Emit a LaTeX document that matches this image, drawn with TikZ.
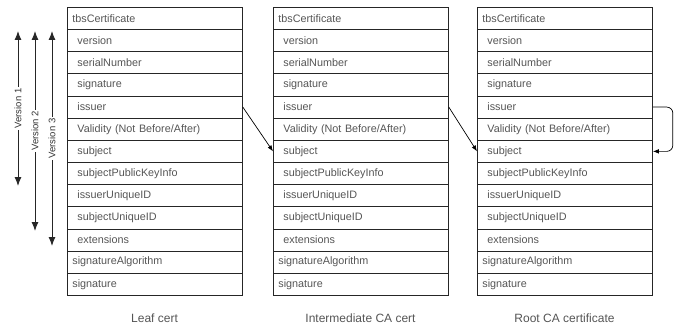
\documentclass[tikz,border=0pt]{standalone}
\usepackage{fontspec}
\setmainfont{Liberation Sans}
\usetikzlibrary{arrows.meta}
\definecolor{txtgray}{HTML}{555555}
\tikzset{ f/.style = { rectangle % field
        , draw = black!85
        , line width = 0.8pt
        , minimum width = 175pt
        , minimum height = 22.15pt
        , text width = 165pt
        , inner xsep = 5pt
        , inner ysep = 0pt
        , align = left
        , anchor = north west
        , font = \fontsize{10.8}{12}\selectfont\color{txtgray}
        }
        , s/.style = { f % sub field, indented
        , inner xsep = 10pt
        , text width = 155pt
        }
        }

\begin{document}
\begin{tikzpicture}[x=1pt, y=-1pt,
        link_style/.style={draw=black, line width=0.7pt, -{Latex[length=6pt,width=4.5pt]}},
        version_style/.style={draw=black!85, line width=1pt, {Latex[length=9pt,width=7pt]}-{Latex[length=9pt,width=7pt]}},
        version_label_style/.style={fill=white, inner sep=1.5pt, rotate=90, font=\fontsize{9.5}{11}\selectfont\color{black!80}},
        caption_style/.style={font=\fontsize{12}{14}\selectfont\color{txtgray}}]
        \useasboundingbox (0,0) rectangle (684,331);

        \foreach \x/\c/\t in {67/leaf/Leaf cert, 273/mid/Intermediate CA cert, 477/root/Root CA certificate} {
            \node [f] (\c1) at (\x,7) {tbsCertificate};
            \node [s] (\c2) at (\x,29.15) {version};
            \node [s] (\c3) at (\x,51.3) {serialNumber};
            \node [s] (\c4) at (\x,73.45) {signature};
            \node [s] (\c5) at (\x,95.6) {issuer};
            \node [s] (\c6) at (\x,117.75) {Validity (Not Before/After)};
            \node [s] (\c7) at (\x,139.9) {subject};
            \node [s] (\c8) at (\x,162.05) {subjectPublicKeyInfo};
            \node [s] (\c9) at (\x,184.2) {issuerUniqueID};
            \node [s] (\c10) at (\x,206.35) {subjectUniqueID};
            \node [s] (\c11) at (\x,228.5) {extensions};
            \node [f] (\c12) at (\x,250.65) {signatureAlgorithm};
            \node [f] (\c13) at (\x,272.8) {signature};
            \node [caption_style] (\c-cap) at (\x+87.5,318) {\t};
        }

        % issuer -> subject
        \draw [link_style] (leaf5.east) -- (mid7.west);
        \draw [link_style] (mid5.east) -- (root7.west);
        \draw [link_style, rounded corners=6pt] (root5.east) -- ++(20,0) |- (root7.east);

        % versions
        \coordinate (v1top) at (18,31);
        \coordinate (v1bot) at (18,186);
        \coordinate (v2top) at (35,31);
        \coordinate (v2bot) at (35,231);
        \coordinate (v3top) at (52,31);
        \coordinate (v3bot) at (52,246);
        \draw [version_style] (v1top) -- node [version_label_style] {Version 1} (v1bot);
        \draw [version_style] (v2top) -- node [version_label_style] {Version 2} (v2bot);
        \draw [version_style] (v3top) -- node [version_label_style] {Version 3} (v3bot);
\end{tikzpicture}
\end{document}
